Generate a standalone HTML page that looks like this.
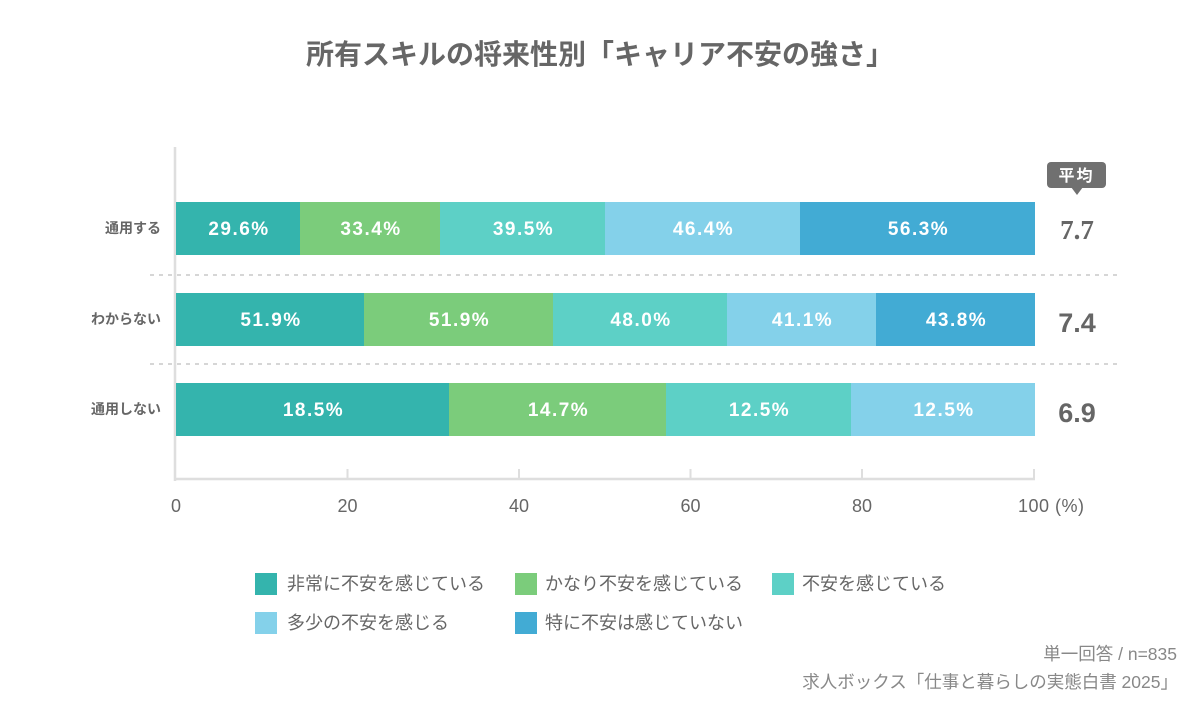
<!DOCTYPE html>
<html><head><meta charset="utf-8"><style>
html,body{margin:0;padding:0;background:#fff;}
svg{display:block;}
text{font-family:"Liberation Sans","Noto Sans CJK JP",sans-serif;}
.serif{font-family:"Liberation Serif","Noto Serif CJK SC",serif;}
</style></head><body>
<svg width="1200" height="710" viewBox="0 0 1200 710" xmlns="http://www.w3.org/2000/svg">
<rect width="1200" height="710" fill="#fff"/>
<text x="600" y="64" text-anchor="middle" font-size="28" font-weight="bold" fill="#666">所有スキルの将来性別「キャリア不安の強さ」</text>

<!-- dashed separators -->
<line x1="150" y1="275" x2="1120" y2="275" stroke="#c8c8c8" stroke-width="1.5" stroke-dasharray="4,5"/>
<line x1="150" y1="364" x2="1120" y2="364" stroke="#c8c8c8" stroke-width="1.5" stroke-dasharray="4,5"/>

<!-- axes -->
<line x1="175" y1="147" x2="175" y2="481" stroke="#dedede" stroke-width="2.5"/>
<line x1="174" y1="479" x2="1035" y2="479" stroke="#dedede" stroke-width="2.5"/>
<g stroke="#dedede" stroke-width="2">
<line x1="347.5" y1="469" x2="347.5" y2="479"/>
<line x1="519" y1="469" x2="519" y2="479"/>
<line x1="690.5" y1="469" x2="690.5" y2="479"/>
<line x1="862" y1="469" x2="862" y2="479"/>
<line x1="1034" y1="469" x2="1034" y2="479"/>
</g>
<g font-size="18" fill="#666" text-anchor="middle">
<text x="176" y="512">0</text>
<text x="347.5" y="512">20</text>
<text x="519" y="512">40</text>
<text x="690.5" y="512">60</text>
<text x="862" y="512">80</text>
<text x="1018" y="512" text-anchor="start" letter-spacing="0.5">100 (%)</text>
</g>

<!-- y labels -->
<g font-size="14" font-weight="bold" fill="#666" text-anchor="end">
<text x="161" y="233">通用する</text>
<text x="161" y="324">わからない</text>
<text x="161" y="414">通用しない</text>
</g>

<!-- row 1 -->
<rect x="176" y="202" width="124" height="53" fill="#34b4ad"/>
<rect x="300" y="202" width="140" height="53" fill="#7bcc7b"/>
<rect x="440" y="202" width="165" height="53" fill="#5dd0c6"/>
<rect x="605" y="202" width="195" height="53" fill="#84d1ea"/>
<rect x="800" y="202" width="235" height="53" fill="#42abd4"/>
<!-- row 2 -->
<rect x="176" y="293" width="188" height="53" fill="#34b4ad"/>
<rect x="364" y="293" width="189" height="53" fill="#7bcc7b"/>
<rect x="553" y="293" width="174" height="53" fill="#5dd0c6"/>
<rect x="727" y="293" width="149" height="53" fill="#84d1ea"/>
<rect x="876" y="293" width="159" height="53" fill="#42abd4"/>
<!-- row 3 -->
<rect x="176" y="383" width="273" height="53" fill="#34b4ad"/>
<rect x="449" y="383" width="217" height="53" fill="#7bcc7b"/>
<rect x="666" y="383" width="185" height="53" fill="#5dd0c6"/>
<rect x="851" y="383" width="184" height="53" fill="#84d1ea"/>

<g font-size="19" font-weight="bold" fill="#fff" text-anchor="middle" letter-spacing="1.5">
<text x="239" y="235">29.6%</text>
<text x="371" y="235">33.4%</text>
<text x="523.5" y="235">39.5%</text>
<text x="703.5" y="235">46.4%</text>
<text x="918.5" y="235">56.3%</text>
<text x="271" y="326">51.9%</text>
<text x="459.5" y="326">51.9%</text>
<text x="641" y="326">48.0%</text>
<text x="802.5" y="326">41.1%</text>
<text x="956.5" y="326">43.8%</text>
<text x="313.5" y="416">18.5%</text>
<text x="558.5" y="416">14.7%</text>
<text x="759.5" y="416">12.5%</text>
<text x="944" y="416">12.5%</text>
</g>

<!-- badge -->
<rect x="1047" y="162" width="59" height="26" rx="4" fill="#707070"/>
<polygon points="1071,187 1083,187 1077,195" fill="#707070"/>
<text x="1076.5" y="181" text-anchor="middle" font-size="16" font-weight="bold" fill="#fff" letter-spacing="2">平均</text>

<g font-size="27" font-weight="bold" fill="#666" text-anchor="middle">
<text x="1077" y="239" class="serif">7.7</text>
<text x="1077" y="332">7.4</text>
<text x="1077" y="422">6.9</text>
</g>

<!-- legend -->
<rect x="255" y="573" width="22" height="22" fill="#34b4ad"/>
<text x="287" y="590" font-size="18" fill="#666">非常に不安を感じている</text>
<rect x="515" y="573" width="22" height="22" fill="#7bcc7b"/>
<text x="545" y="590" font-size="18" fill="#666">かなり不安を感じている</text>
<rect x="772" y="573" width="22" height="22" fill="#5dd0c6"/>
<text x="802" y="590" font-size="18" fill="#666">不安を感じている</text>
<rect x="255" y="612" width="22" height="22" fill="#84d1ea"/>
<text x="287" y="629" font-size="18" fill="#666">多少の不安を感じる</text>
<rect x="515" y="612" width="22" height="22" fill="#42abd4"/>
<text x="545" y="629" font-size="18" fill="#666">特に不安は感じていない</text>

<!-- source -->
<g font-size="17.5" fill="#888" text-anchor="end">
<text x="1177" y="660">単一回答 / n=835</text>
<text x="1178" y="688">求人ボックス「仕事と暮らしの実態白書 2025」</text>
</g>
</svg>
</body></html>
